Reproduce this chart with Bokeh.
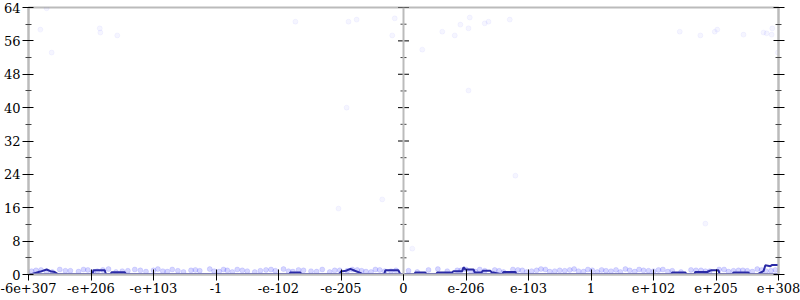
from bokeh.plotting import figure
from bokeh.models import Range1d, FixedTicker, LinearAxis, Span
from bokeh.embed import file_html
from bokeh.resources import INLINE

# x positions are tick-slot units: -6..6 map to the labels below
x_ticks = [-6, -5, -4, -3, -2, -1, 0, 1, 2, 3, 4, 5, 6]
x_labels = ["-6e+307", "-e+206", "-e+103", "-1", "-e-102", "-e-205", "0",
            "e-206", "e-103", "1", "e+102", "e+205", "e+308"]
y_ticks = [0, 8, 16, 24, 32, 40, 48, 56, 64]
y_minor = [4, 12, 20, 28, 36, 44, 52, 60]

# sparse sample points (high values)
pts_x = [-5.71, -5.81, -5.63, -4.86, -4.85, -4.58, -1.73, -0.88, -0.75, -0.14,
         -0.18, -0.91, -1.04, -0.34, 0.14, 0.30, 0.62, 0.82, 0.91, 1.04, 1.06,
         1.30, 1.36, 1.70, 1.04, 1.79, 4.42, 4.75, 4.98, 5.02, 5.44, 5.76,
         5.81, 5.89, 5.90, 4.83, 5.99]
pts_y = [63.8, 58.7, 53.2, 59.0, 58.0, 57.3, 60.6, 60.6, 61.1, 61.4,
         57.3, 40.0, 15.8, 18.0, 6.2, 53.9, 58.2, 57.3, 59.9, 59.0, 61.6,
         60.2, 60.6, 61.1, 44.1, 23.7, 58.2, 57.3, 58.2, 58.7, 57.5, 58.0,
         57.8, 57.5, 59.0, 12.2, 53.2]

# dense sample points near the bottom
band_x = [-5.95, -5.8, -5.62, -5.5, -5.33, -5.2, -5.05, -4.9, -4.72, -4.6,
          -4.41, -4.3, -4.12, -4.0, -3.85, -3.7, -3.52, -3.4, -3.26, -3.1,
          -2.95, -2.82, -2.66, -2.5, -2.38, -2.2, -2.05, -1.92, -1.77, -1.6,
          -1.48, -1.3, -1.18, -1.02, -0.9, -0.74, -0.6, -0.45, -0.3, -0.12,
          0.08, 0.22, 0.4, 0.55, 0.7, 0.86, 1.0, 1.15, 1.3, 1.46,
          1.6, 1.75, 1.9, 2.05, 2.2, 2.34, 2.5, 2.66, 2.8, 2.95,
          3.1, 3.24, 3.4, 3.55, 3.7, 3.84, 4.0, 4.15, 4.3, 4.44,
          4.6, 4.76, 4.9, 5.05, 5.2, 5.36, 5.5, 5.66, 5.8, 5.95,
          -5.88, -5.71, -5.41, -5.12, -4.97, -4.81, -4.5, -4.21, -3.93, -3.78,
          -3.61, -3.33, -3.03, -2.88, -2.74, -2.58, -2.29, -2.12, -1.84, -1.68,
          -1.39, -1.1, -0.82, -0.67, -0.52, -0.38, -0.2, 0.92, 1.08, 1.22,
          1.53, 1.83, 1.97, 2.13, 2.27, 2.42, 2.58, 2.73, 2.88, 3.02,
          3.17, 3.32, 3.47, 3.62, 3.77, 3.92, 4.08, 4.23, 4.68, 4.83,
          5.13, 5.28, 5.43, 5.58, 5.73, 5.88]
band_y = [0.8, 1.1, 0.6, 1.2, 0.9, 0.7, 1.1, 0.8, 1.3, 0.6,
          0.9, 1.2, 0.7, 1.0, 0.8, 1.2, 0.6, 1.0, 0.9, 1.3,
          0.7, 1.0, 1.2, 0.8, 0.6, 1.1, 0.9, 1.3, 0.7, 1.0,
          0.8, 1.2, 0.6, 1.0, 0.9, 1.1, 0.7, 1.2, 0.8, 1.0,
          0.9, 0.6, 1.1, 1.3, 0.8, 1.0, 1.2, 0.7, 0.9, 1.1,
          0.6, 1.2, 1.0, 0.8, 1.3, 0.7, 1.0, 1.1, 0.8, 1.2,
          0.6, 0.9, 1.1, 1.3, 0.7, 1.0, 0.8, 1.2, 0.9, 0.6,
          1.1, 1.0, 0.8, 1.2, 0.7, 1.0, 0.9, 1.3, 0.8, 1.1,
          1.0, 0.7, 0.9, 1.2, 0.6, 1.1, 0.8, 1.0, 1.3, 0.7,
          0.9, 1.1, 0.8, 1.2, 0.6, 1.0, 0.9, 1.2, 0.8, 1.1,
          0.7, 1.0, 1.2, 0.9, 0.6, 1.1, 0.8, 1.0, 0.7, 1.2,
          0.9, 1.1, 0.6, 1.0, 1.2, 0.8, 0.9, 1.3, 0.7, 1.0,
          1.1, 0.8, 0.6, 1.0, 1.2, 0.9, 1.1, 0.7, 1.0, 0.8,
          1.2, 0.9, 1.0, 0.7, 1.1, 0.9]

# density line
line_x = [-6.0, -5.97, -5.81, -5.71, -5.65, -5.58, -5.52,
          -4.98, -4.96, -4.78, -4.76, -4.69, -4.67, -4.46, -4.44,
          -1.83, -1.81, -1.65, -1.63,
          -1.03, -1.0, -0.92, -0.85, -0.78, -0.69, -0.66,
          -0.31, -0.29, -0.08, -0.05, 0.0,
          0.17, 0.19, 0.35, 0.37, 0.52, 0.54, 0.78, 0.80, 0.94, 0.96, 0.99,
          1.12, 1.14, 1.25, 1.27, 1.39, 1.41, 1.44, 1.58, 1.60, 1.79, 1.81,
          4.28, 4.30, 4.51, 4.53, 4.65, 4.67, 4.86, 4.90, 4.93, 5.04, 5.06,
          5.26, 5.28, 5.52, 5.54, 5.66, 5.76, 5.79, 5.87, 5.90, 6.0]
line_y = [0.0, 0.0, 0.7, 1.2, 0.8, 0.6, 0.0,
          0.0, 1.0, 1.0, 0.0, 0.0, 0.55, 0.55, 0.0,
          0.0, 0.5, 0.5, 0.0,
          0.0, 0.7, 0.9, 1.35, 0.9, 0.4, 0.0,
          0.0, 1.0, 1.0, 0.0, 0.0,
          0.0, 0.5, 0.5, 0.0, 0.0, 0.5, 0.5, 0.8, 0.8, 1.75, 1.2,
          1.2, 0.5, 0.5, 0.9, 0.9, 0.5, 0.5, 0.0, 0.6, 0.6, 0.0,
          0.0, 0.5, 0.5, 0.0, 0.0, 0.6, 0.6, 0.9, 1.0, 1.0, 0.0,
          0.0, 0.5, 0.5, 0.0, 0.0, 0.8, 2.2, 2.0, 2.3, 2.3]

FONT = "DejaVu Serif"
AXIS_GREY = "#bbbbbb"
LINE_BLUE = "#2a2aa6"

p = figure(width=800, height=300, output_backend="svg", toolbar_location=None,
           x_range=Range1d(-6, 6), y_range=Range1d(0, 64),
           min_border_left=28, min_border_right=22, min_border_top=7,
           min_border_bottom=26, x_axis_location="below")
p.grid.visible = False
p.outline_line_color = AXIS_GREY
p.outline_line_width = 2
p.background_fill_color = "white"
p.border_fill_color = "white"

xa = p.xaxis[0]
xa.ticker = FixedTicker(ticks=x_ticks)
xa.major_label_overrides = {t: l for t, l in zip(x_ticks, x_labels)}
xa.axis_line_color = AXIS_GREY
xa.axis_line_width = 2
xa.major_tick_line_color = "black"
xa.major_tick_in = 5
xa.major_tick_out = 6
xa.minor_tick_line_color = None
xa.major_label_standoff = 2
xa.major_label_text_font = FONT
xa.major_label_text_font_size = "13px"
xa.major_label_text_color = "black"

ya = p.yaxis[0]
ya.ticker = FixedTicker(ticks=y_ticks, minor_ticks=y_minor)
ya.axis_line_color = AXIS_GREY
ya.axis_line_width = 2
ya.major_tick_line_color = "black"
ya.major_tick_in = 5
ya.major_tick_out = 6
ya.minor_tick_line_color = "#444444"
ya.minor_tick_in = 3
ya.minor_tick_out = 3
ya.major_label_standoff = 2
ya.major_label_text_font = FONT
ya.major_label_text_font_size = "13px"
ya.major_label_text_color = "black"

ra = LinearAxis(ticker=FixedTicker(ticks=y_ticks, minor_ticks=y_minor))
ra.axis_line_color = AXIS_GREY
ra.axis_line_width = 2
ra.major_tick_line_color = "black"
ra.major_tick_in = 5
ra.major_tick_out = 6
ra.minor_tick_line_color = "#444444"
ra.minor_tick_in = 3
ra.minor_tick_out = 3
ra.major_label_overrides = {t: "" for t in y_ticks}
ra.major_label_standoff = 0
p.add_layout(ra, "right")

# center axis at x = 0
p.add_layout(Span(location=0, dimension="height", line_color=AXIS_GREY, line_width=2))
p.scatter([0] * len(y_ticks), y_ticks, marker="dash", size=11, line_color="black", line_width=1)
p.scatter([0] * len(y_minor), y_minor, marker="dash", size=6, line_color="#444444", line_width=1)

p.scatter(band_x, band_y, size=5, fill_color="blue", fill_alpha=0.16,
          line_color="blue", line_alpha=0.1)
p.scatter(pts_x, pts_y, size=5, fill_color="blue", fill_alpha=0.04,
          line_color="blue", line_alpha=0.04)

p.line([-6, 6], [0, 0], line_color=LINE_BLUE, line_width=2.5)
p.line(line_x, line_y, line_color=LINE_BLUE, line_width=2)

open("out.html", "w").write(file_html(p, INLINE))
